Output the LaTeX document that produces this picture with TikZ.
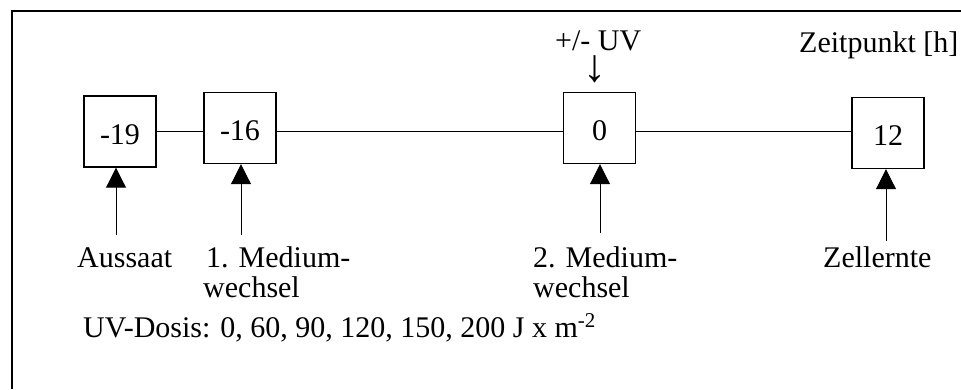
\documentclass[tikz,border=0pt]{standalone}
\usepackage{fontspec}
\setmainfont{Liberation Serif}
\usetikzlibrary{arrows.meta}
\begin{document}
\begin{tikzpicture}[x=1pt,y=-1pt,
  every node/.style={font=\fontsize{30}{30}\selectfont, inner sep=0pt},
  tbox/.style={draw, line width=1.4pt, minimum width=72pt, minimum height=71pt, text height=25pt, text depth=0pt},
  tline/.style={line width=1pt},
  uparrow/.style={line width=1pt, -{Triangle[width=20pt,length=20pt]}},
  lbl/.style={anchor=base west, align=left}]
\useasboundingbox (0,0) rectangle (961,389);
\draw[line width=2pt] (12,389) -- (12,11) -- (961,11);
% boxes
\node[tbox] (b1) at (120,131.5) {-19};
\node[tbox] (b2) at (240,128) {-16};
\node[tbox] (b3) at (599.5,128) {0};
\node[tbox] (b4) at (888,133) {12};
\coordinate (yl) at (0,131);
\draw[tline] (b1.east|-yl) -- (b2.west|-yl);
\draw[tline] (b2.east|-yl) -- (b3.west|-yl);
\draw[tline] (b3.east|-yl) -- (b4.west|-yl);
% labels
\node[lbl] (aus) at (77,267) {Aussaat};
\node[lbl] (m1) at (206,267) {1. Medium-};
\node[lbl] (w1) at (203,297) {wechsel};
\node[lbl] (m2) at (533,267) {2. Medium-};
\node[lbl] (w2) at (533,297) {wechsel};
\node[lbl] (zell) at (823,267) {Zellernte};
\node[lbl] (zeit) at (799,52) {Zeitpunkt [h]};
\node[lbl, text depth=0pt] (uv) at (555,50) {+/- UV};
\node[anchor=base, text height=24pt, text depth=0pt, font=\fontsize{46}{46}\selectfont] (dn) at (595,81) {↓};
\node[lbl] (dosis) at (83,337) {UV-Dosis: 0, 60, 90, 120, 150, 200 J x m\textsuperscript{-2}};
% arrows
\coordinate (s1) at (116,235);
\coordinate (s2) at (241,235);
\coordinate (s3) at (600,233);
\coordinate (s4) at (886,241);
\draw[uparrow] (s1) -- (s1|-b1.south);
\draw[uparrow] (s2) -- (s2|-b2.south);
\draw[uparrow] (s3) -- (s3|-b3.south);
\draw[uparrow] (s4) -- (s4|-b4.south);
\end{tikzpicture}
\end{document}
